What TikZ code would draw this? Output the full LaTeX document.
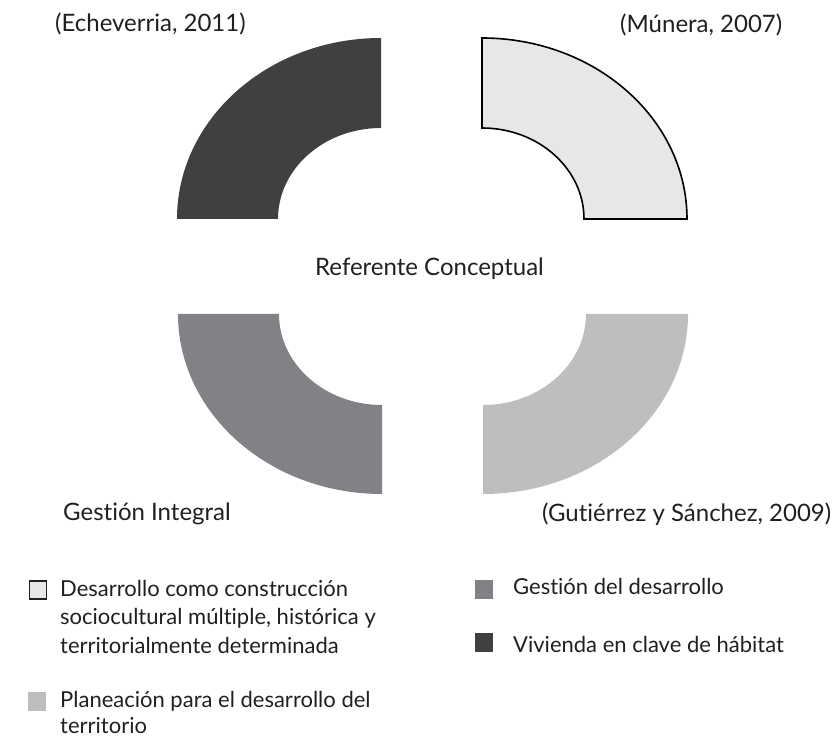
\documentclass[tikz,border=0pt]{standalone}
\usepackage{fontspec}
\setmainfont{Lato}[RawFeature={-liga}]
\definecolor{txt}{HTML}{231F20}
\definecolor{cdark}{HTML}{404041}
\definecolor{clight}{HTML}{E6E7E8}
\definecolor{cmid}{HTML}{808285}
\definecolor{cpale}{HTML}{BCBEC0}
\tikzset{
  lbl/.style={anchor=base west, inner sep=0pt, text=txt, font=\fontsize{22}{26}\selectfont},
  big/.style={lbl, font=\fontsize{24}{28}\selectfont},
  sw/.style={minimum width=18pt, minimum height=19pt, inner sep=0pt, anchor=north west}
}
\begin{document}
\begin{tikzpicture}[x=1pt,y=1pt]
\useasboundingbox (0,0) rectangle (839,740);
% quarter rings
\fill[cdark] (177,521) arc[start angle=180,end angle=90,x radius=204,y radius=181]
  -- (381,612) arc[start angle=90,end angle=180,x radius=103,y radius=91] -- cycle;
\filldraw[fill=clight,draw=black,line width=1.6pt,line join=miter] (482,702) arc[start angle=90,end angle=0,x radius=205,y radius=181]
  -- (584,521) arc[start angle=0,end angle=90,x radius=102,y radius=91] -- cycle;
\fill[cmid] (178,426) arc[start angle=180,end angle=270,x radius=204,y radius=180]
  -- (382,335) arc[start angle=270,end angle=180,x radius=103,y radius=91] -- cycle;
\fill[cpale] (483,246) arc[start angle=270,end angle=360,x radius=205,y radius=180]
  -- (586,426) arc[start angle=0,end angle=-90,x radius=103,y radius=91] -- cycle;
% labels
\node[big] (ech) at (55,708) {(Echeverria, 2011)};
\node[big] (mun) at (620,707) {(Múnera, 2007)};
\node[big] (ref) at (315,464) {Referente Conceptual};
\node[big] (gi) at (63,219) {Gestión Integral};
\node[big] (gs) at (542,218) {(Gutiérrez y Sánchez, 2009)};
% legend
\node[sw, draw=txt, line width=1.8pt, fill=clight, minimum width=17pt, minimum height=18pt] (k1) at (28.5,159.5) {};
\node[lbl] (l1a) at (60,143) {Desarrollo como construcción};
\node[lbl] (l1b) at (60,115) {sociocultural múltiple, histórica y};
\node[lbl] (l1c) at (60,87) {territorialmente determinada};
\node[sw, fill=cpale] (k2) at (28,48) {};
\node[lbl] (l2a) at (60,33) {Planeación para el desarrollo del};
\node[lbl] (l2b) at (60,7) {territorio};
\node[sw, fill=cmid] (k3) at (475,160) {};
\node[lbl] (l3) at (513,145) {Gestión del desarrollo};
\node[sw, fill=cdark] (k4) at (475,107) {};
\node[lbl] (l4) at (513,88) {Vivienda en clave de hábitat};
\end{tikzpicture}
\end{document}
